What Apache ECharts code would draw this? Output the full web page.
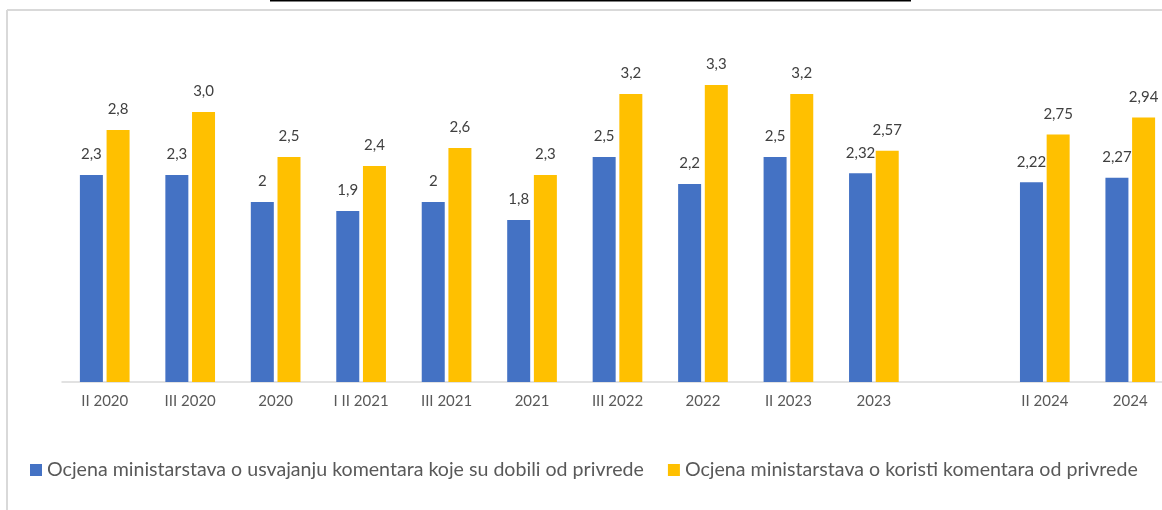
<!DOCTYPE html>
<html>
<head>
<meta charset="utf-8">
<script src="https://cdn.jsdelivr.net/npm/echarts@6/dist/echarts.min.js"></script>
<style>
html,body{margin:0;padding:0;background:#fff;overflow:hidden;width:1162px;height:510px;}
#chart{width:1180px;height:510px;}
</style>
</head>
<body>
<div id="chart"></div>
<script>
const categories = ['II 2020','III 2020','2020','I II 2021','III 2021','2021','III 2022','2022','II 2023','2023','','II 2024','2024'];
const seriesNames = ['Ocjena ministarstava o usvajanju komentara koje su dobili od privrede','Ocjena ministarstava o koristi komentara od privrede'];
const adoptionValues = [2.3, 2.3, 2.0, 1.9, 2.0, 1.8, 2.5, 2.2, 2.5, 2.32, null, 2.22, 2.27];
const usefulnessValues = [2.8, 3.0, 2.5, 2.4, 2.6, 2.3, 3.2, 3.3, 3.2, 2.57, null, 2.75, 2.94];
const adoptionLabels = ['2,3','2,3','2','1,9','2','1,8','2,5','2,2','2,5','2,32','','2,22','2,27'];
const usefulnessLabels = ['2,8','3,0','2,5','2,4','2,6','2,3','3,2','3,3','3,2','2,57','','2,75','2,94'];

const FONT = 'Lato';
const chart = echarts.init(document.getElementById('chart'), null, {renderer:'canvas', width:1180, height:510});
function lab(arr){
  return {show:true, position:'top', distance:13, color:'#404040', fontSize:15, fontFamily:FONT,
    formatter: p => arr[p.dataIndex]};
}
chart.setOption({
  animation:false,
  backgroundColor:'#fff',
  textStyle:{fontFamily:FONT},
  grid:{left:62, width:1111, top:22, bottom:128, containLabel:false},
  legend:{
    left:30, top:460, padding:0, itemWidth:12, itemHeight:12, itemGap:24,
    icon:'rect',
    textStyle:{color:'#595959', fontSize:19.6, fontFamily:FONT},
    data:seriesNames
  },
  xAxis:{
    type:'category', data:categories,
    axisLine:{lineStyle:{color:'#d9d9d9', width:1.5}},
    axisTick:{show:false},
    axisLabel:{color:'#595959', fontSize:15, fontFamily:FONT, margin:12, interval:0}
  },
  yAxis:{type:'value', min:0, max:4, show:false, splitLine:{show:false}},
  series:[
    {name:seriesNames[0], type:'bar', data:adoptionValues, barWidth:23, barGap:'16%',
      itemStyle:{color:'#4472C4'}, label:lab(adoptionLabels)},
    {name:seriesNames[1], type:'bar', data:usefulnessValues, barWidth:23, barGap:'16%',
      itemStyle:{color:'#FFC000'}, label:lab(usefulnessLabels)}
  ],
  graphic:[
    {type:'line', shape:{x1:7, y1:10, x2:1180, y2:10}, style:{stroke:'#d9d9d9', lineWidth:2}, silent:true},
    {type:'line', shape:{x1:7, y1:10, x2:7, y2:510}, style:{stroke:'#d9d9d9', lineWidth:2}, silent:true},
    {type:'line', shape:{x1:270, y1:0.75, x2:911, y2:0.75}, style:{stroke:'#000', lineWidth:1.5}, silent:true}
  ]
});
</script>
</body>
</html>
